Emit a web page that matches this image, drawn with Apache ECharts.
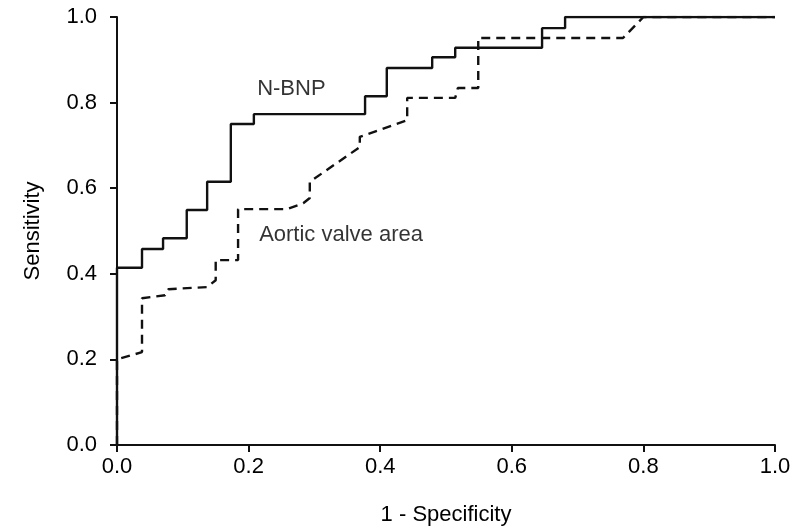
<!DOCTYPE html>
<html>
<head>
<meta charset="utf-8">
<script src="https://cdn.jsdelivr.net/npm/echarts@6/dist/echarts.min.js"></script>
<style>html,body{margin:0;padding:0;background:#fff}#c{width:806px;height:528px}</style>
</head>
<body>
<div id="c"></div>
<script>
// 1 - Specificity (x), Sensitivity (y): step corners for N-BNP
var nbnpX = [0, 0, 0.038, 0.070, 0.106, 0.137, 0.173, 0.208, 0.377, 0.410, 0.479, 0.514, 0.646, 0.681, 1.0];
var nbnpY = [0, 0.414, 0.458, 0.483, 0.549, 0.615, 0.750, 0.773, 0.815, 0.881, 0.906, 0.928, 0.974, 1.0, 1.0];
// Aortic valve area curve vertices
var avaX = [0, 0, 0.038, 0.038, 0.073, 0.078, 0.137, 0.150, 0.150, 0.184, 0.184, 0.258, 0.283, 0.293, 0.293, 0.369, 0.369, 0.441, 0.441, 0.514, 0.518, 0.549, 0.549, 0.769, 0.800, 1.0];
var avaY = [0, 0.200, 0.217, 0.343, 0.350, 0.364, 0.369, 0.385, 0.432, 0.432, 0.551, 0.551, 0.565, 0.577, 0.615, 0.696, 0.720, 0.759, 0.811, 0.811, 0.834, 0.834, 0.951, 0.951, 1.0, 1.0];
var tickLabels = ['0.0', '0.2', '0.4', '0.6', '0.8', '1.0'];
var seriesLabels = [
  {name: 'N-BNP', x: 0.213, y: 0.832},
  {name: 'Aortic valve area', x: 0.216, y: 0.49}
];

function zip(a, b) { return a.map(function (v, i) { return [v, b[i]]; }); }

var FONT = 'Liberation Sans, Arial, sans-serif';
var INK = '#000';
var FS = 22;
var chart = echarts.init(document.getElementById('c'), null, {renderer: 'canvas'});
var axisCommon = {
  type: 'value', min: 0, max: 1, interval: 0.2,
  axisLine: {show: true, lineStyle: {color: '#111', width: 2}},
  axisTick: {show: true, inside: false, length: 7, lineStyle: {color: '#111', width: 2}},
  splitLine: {show: false},
  nameLocation: 'middle',
  nameTextStyle: {color: INK, fontSize: FS, fontFamily: FONT},
  axisLabel: {color: INK, fontSize: FS, fontFamily: FONT,
    formatter: function (v) { return tickLabels[Math.round(v / 0.2)]; }}
};
chart.setOption({
  animation: false,
  backgroundColor: '#fff',
  grid: {left: 117, right: 31, top: 17, bottom: 83, containLabel: false, outerBoundsMode: 'none'},
  xAxis: Object.assign({}, axisCommon, {
    name: '1 - Specificity', nameGap: 59,
    axisLabel: Object.assign({}, axisCommon.axisLabel, {margin: 11})
  }),
  yAxis: Object.assign({}, axisCommon, {
    name: 'Sensitivity', nameGap: 73,
    axisLabel: Object.assign({}, axisCommon.axisLabel, {margin: 20})
  }),
  series: [
    {
      name: 'N-BNP', type: 'line', step: 'end', data: zip(nbnpX, nbnpY),
      showSymbol: false, symbol: 'none',
      lineStyle: {color: '#111', width: 2.4}
    },
    {
      name: 'Aortic valve area', type: 'line', data: zip(avaX, avaY),
      showSymbol: false, symbol: 'none',
      lineStyle: {color: '#111', width: 2.4, type: [9, 6]}
    },
    {
      type: 'scatter', symbolSize: 0, silent: true,
      data: seriesLabels.map(function (d) { return {value: [d.x, d.y], name: d.name}; }),
      label: {show: true, position: 'right', distance: 0, formatter: '{b}',
        color: INK, fontSize: FS, fontFamily: FONT}
    }
  ]
});
</script>
</body>
</html>
